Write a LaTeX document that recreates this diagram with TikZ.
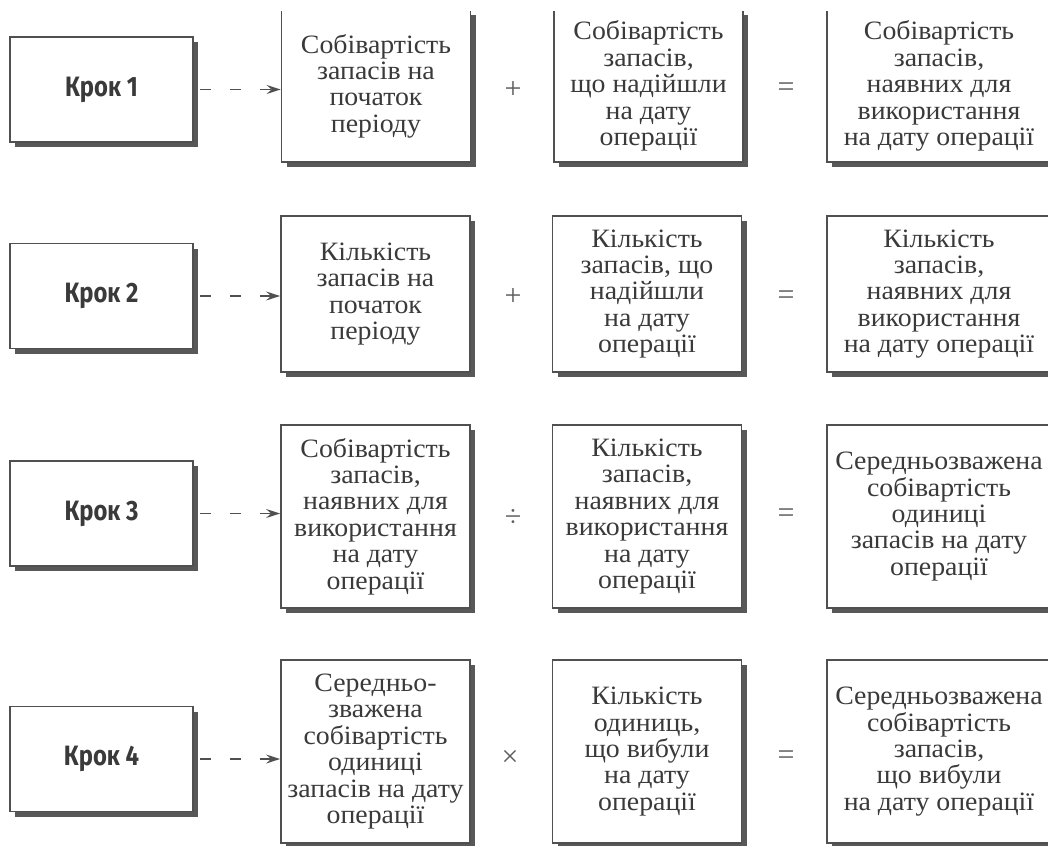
\documentclass[tikz,border=0pt]{standalone}
\usepackage{fontspec}
\setmainfont[FakeStretch=1.05]{Liberation Serif}
\newfontfamily\stepfont[FakeStretch=0.85]{Fira Sans}
\newfontfamily\signfont{Liberation Serif}
\usetikzlibrary{shadows,arrows.meta}

\definecolor{linec}{HTML}{505050}
\definecolor{shadowc}{HTML}{585858}
\definecolor{txtc}{HTML}{3A3A3A}
\definecolor{opc}{HTML}{5E5E5E}

\tikzset{
  framed/.style={draw=linec, line width=1.8pt, fill=white, inner sep=0pt,
    drop shadow={shadow xshift=5pt, shadow yshift=-5pt, fill=shadowc, opacity=1}},
  stepbox/.style={framed, minimum width=183pt, minimum height=105pt,
    font=\stepfont\bfseries\fontsize{28}{30}\selectfont, text=txtc},
  calcbox/.style={framed, minimum width=189pt, align=center,
    font=\fontsize{26.5}{26.4}\selectfont, text=txtc},
  resbox/.style={calcbox, minimum width=224pt},
  opsign/.style={font=\signfont\fontsize{30}{30}\selectfont, text=opc, inner sep=0pt},
  flow/.style={draw=linec, line width=1.6pt, dash pattern=on 11pt off 19pt,
    shorten <=6pt, -{Stealth[length=14pt,width=9pt,inset=5pt]}}
}

\begin{document}
\begin{tikzpicture}[x=1pt,y=-1pt]
\useasboundingbox (0,0) rectangle (1048,845);
\clip (0,11.5) rectangle (1048,845);

% ---- step 1 ----
\node[stepbox] (s1) at (101.5,89.5) {Крок 1};
\node[calcbox, minimum height=152pt] (a1) at (376,86)
  {Собівартість\\запасів на\\початок\\періоду};
\node[calcbox, minimum height=152pt] (b1) at (648.5,86)
  {Собівартість\\запасів,\\що надійшли\\на дату\\операції};
\node[resbox, minimum height=152pt] (c1) at (939,86)
  {Собівартість\\запасів,\\наявних для\\використання\\на дату операції};
\node[opsign] (p1) at (513,90) {+};
\node[opsign] (e1) at (786,90) {=};
\draw[flow] (s1.east) -- (a1.west |- s1.east);

% ---- step 2 ----
\node[stepbox] (s2) at (101.5,296) {Крок 2};
\node[calcbox, minimum height=156pt] (a2) at (375.5,294)
  {Кількість\\запасів на\\початок\\періоду};
\node[calcbox, minimum height=156pt] (b2) at (647,294)
  {Кількість\\запасів, що\\надійшли\\на дату\\операції};
\node[resbox, minimum height=156pt] (c2) at (939,294)
  {Кількість\\запасів,\\наявних для\\використання\\на дату операції};
\node[opsign] (p2) at (513,297) {+};
\node[opsign] (e2) at (786,298) {=};
\draw[flow] (s2.east) -- (a2.west |- s2.east);

% ---- step 3 ----
\node[stepbox] (s3) at (101.5,513.5) {Крок 3};
\node[calcbox, minimum height=183pt] (a3) at (375.5,516.5)
  {Собівартість\\запасів,\\наявних для\\використання\\на дату\\операції};
\node[calcbox, minimum height=183pt] (b3) at (647,516.5)
  {Кількість\\запасів,\\наявних для\\використання\\на дату\\операції};
\node[resbox, minimum height=183pt] (c3) at (939,516.5)
  {Середньозважена\\собівартість\\одиниці\\запасів на дату\\операції};
\node[opsign] (d3) at (513,518) {÷};
\node[opsign] (e3) at (786,516) {=};
\draw[flow] (s3.east) -- (a3.west |- s3.east);

% ---- step 4 ----
\node[stepbox] (s4) at (101.5,759) {Крок 4};
\node[calcbox, minimum height=183pt] (a4) at (375.5,751.5)
  {Середньо-\\зважена\\собівартість\\одиниці\\запасів на дату\\операції};
\node[calcbox, minimum height=183pt] (b4) at (647,751.5)
  {Кількість\\одиниць,\\що вибули\\на дату\\операції};
\node[resbox, minimum height=183pt] (c4) at (939,751.5)
  {Середньозважена\\собівартість\\запасів,\\що вибули\\на дату операції};
\node[opsign] (m4) at (510,758) {×};
\node[opsign] (e4) at (786,758) {=};
\draw[flow] (s4.east) -- (a4.west |- s4.east);
\end{tikzpicture}
\end{document}
